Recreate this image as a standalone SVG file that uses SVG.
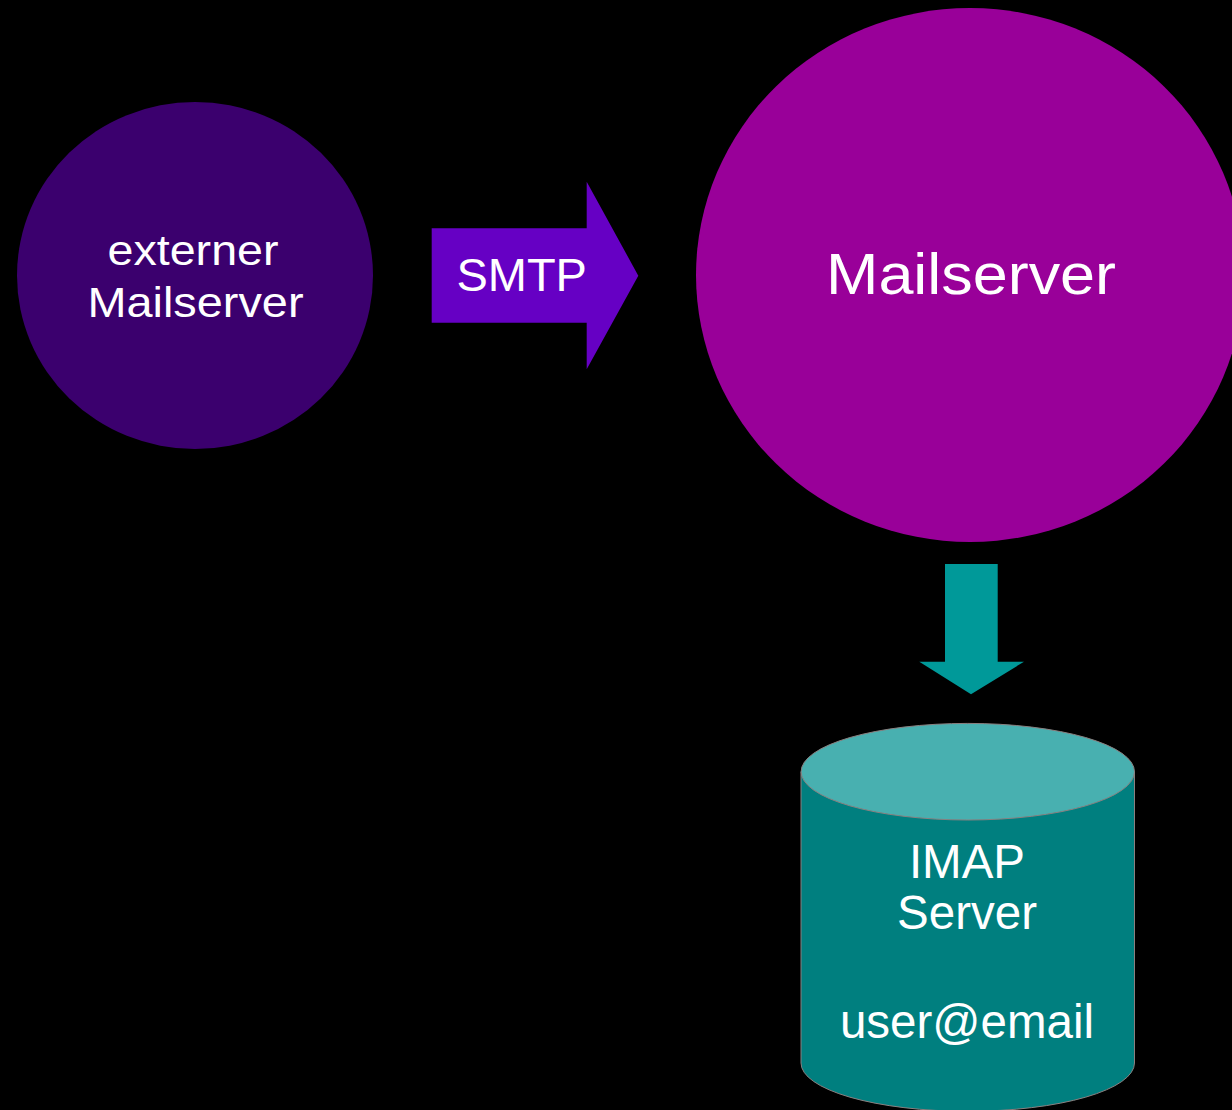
<svg xmlns="http://www.w3.org/2000/svg" width="1232" height="1110" viewBox="0 0 1232 1110">
  <style>
    .label { font-family: "Liberation Sans", Arial, sans-serif; fill: #ffffff; text-anchor: middle; }
    .cyl-edge { stroke: #8a8080; stroke-width: 1; }
  </style>
  <rect x="0" y="0" width="1232" height="1110" fill="#000000"/>

  <!-- external mail server -->
  <g id="external-mailserver">
    <ellipse cx="195" cy="275.5" rx="178" ry="173.5" fill="#3b006e"/>
    <text class="label" x="193" y="264.5" font-size="42" textLength="171" lengthAdjust="spacingAndGlyphs">externer</text>
    <text class="label" x="195.5" y="316.7" font-size="42" textLength="216" lengthAdjust="spacingAndGlyphs">Mailserver</text>
  </g>

  <!-- own mail server -->
  <g id="mailserver">
    <ellipse cx="970" cy="275" rx="274" ry="267" fill="#990099"/>
    <text class="label" x="971" y="294" font-size="57" textLength="290" lengthAdjust="spacingAndGlyphs">Mailserver</text>
  </g>

  <!-- IMAP storage cylinder -->
  <g id="imap-server">
    <path class="cyl-edge" d="M801,771.7 L801,1063 A166.7,48.3 0 0 0 1134.5,1063 L1134.5,771.7 Z" fill="#007f7f"/>
    <ellipse class="cyl-edge" cx="967.8" cy="771.7" rx="166.7" ry="48.3" fill="#48b0b0"/>
    <text class="label" x="967" y="878.3" font-size="47.5">IMAP</text>
    <text class="label" x="967" y="929.3" font-size="47.5">Server</text>
    <text class="label" x="967" y="1038.3" font-size="47.5">user@email</text>
  </g>

  <!-- block arrows between the servers -->
  <g id="connectors">
    <g id="smtp-arrow">
      <polygon points="431.7,228.3 586.7,228.3 586.7,181.7 638.3,275.7 586.7,369.3 586.7,322.7 431.7,322.7" fill="#6600c4"/>
      <text class="label" x="521.7" y="290.7" font-size="47">SMTP</text>
    </g>
    <polygon id="delivery-arrow" points="945,564 997.7,564 997.7,661.7 1024,661.7 971,694.3 919.3,661.7 945,661.7" fill="#009999"/>
  </g>
</svg>
